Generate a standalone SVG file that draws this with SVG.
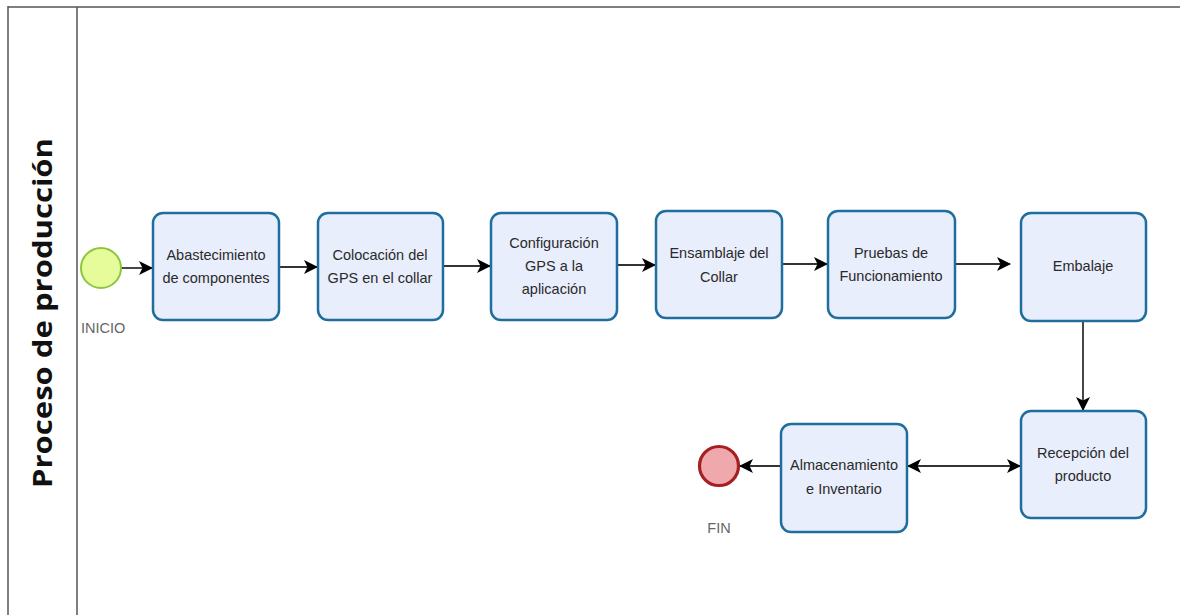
<svg xmlns="http://www.w3.org/2000/svg" width="1180" height="615" viewBox="0 0 1180 615">
<style>
.task{fill:#E9EEFC;stroke:#1F6E9E;stroke-width:2.5}
.lbl{font-family:"Liberation Sans",Arial,sans-serif;font-size:14.5px;fill:#2a2a2a;text-anchor:middle}
.ev{font-family:"Liberation Sans",Arial,sans-serif;font-size:14.5px;fill:#666}
.conn{stroke:#333;stroke-width:1.8;fill:none}
.pool{stroke:#555;stroke-width:1.5;fill:none}
</style>
<defs>
<marker id="ah" viewBox="0 0 14 14" refX="13" refY="7" markerWidth="14" markerHeight="14" markerUnits="userSpaceOnUse" orient="auto-start-reverse">
<path d="M0,0 L14,7 L0,14 L3.5,7 Z" fill="#000"/>
</marker>
</defs>
<rect width="1180" height="615" fill="#fff"/>
<g id="pool">
<line class="pool" x1="8" y1="7" x2="1180" y2="7" stroke-width="2.5"/>
<line class="pool" x1="8" y1="6" x2="8" y2="615"/>
<line class="pool" x1="77" y1="7" x2="77" y2="615"/>
<text x="52" y="313" transform="rotate(-90 52 313)" font-family="'Open Sans','Liberation Sans',sans-serif" font-size="27" font-weight="bold" fill="#111" text-anchor="middle" textLength="350" lengthAdjust="spacingAndGlyphs">Proceso de producción</text>
</g>
<g id="connectors">
<line class="conn" x1="121" y1="268" x2="152" y2="268" marker-end="url(#ah)"/>
<line class="conn" x1="279" y1="267" x2="317" y2="267" marker-end="url(#ah)"/>
<line class="conn" x1="443" y1="266" x2="490" y2="266" marker-end="url(#ah)"/>
<line class="conn" x1="617" y1="265" x2="655" y2="265" marker-end="url(#ah)"/>
<line class="conn" x1="782" y1="264" x2="827" y2="264" marker-end="url(#ah)"/>
<line class="conn" x1="955" y1="264" x2="1010" y2="264" marker-end="url(#ah)"/>
<line class="conn" x1="1083" y1="321" x2="1083" y2="410" stroke="#666" marker-end="url(#ah)"/>
<line class="conn" x1="908" y1="466" x2="1020" y2="466" marker-start="url(#ah)" marker-end="url(#ah)"/>
<line class="conn" x1="781" y1="466" x2="740" y2="466" marker-end="url(#ah)"/>
</g>
<g id="inicio">
<circle cx="101" cy="268" r="20" fill="#E6FC9A" stroke="#8CC63E" stroke-width="2"/>
<text class="ev" x="81" y="333">INICIO</text>
</g>
<g id="abastecimiento">
<rect class="task" x="153" y="213" width="126" height="107" rx="10"/>
<text class="lbl" x="216" y="260">Abastecimiento</text>
<text class="lbl" x="216" y="283">de componentes</text>
</g>
<g id="colocacion">
<rect class="task" x="318" y="213" width="125" height="107" rx="10"/>
<text class="lbl" x="380" y="260">Colocación del</text>
<text class="lbl" x="380" y="283">GPS en el collar</text>
</g>
<g id="configuracion">
<rect class="task" x="491" y="213" width="126" height="107" rx="10"/>
<text class="lbl" x="554" y="248">Configuración</text>
<text class="lbl" x="554" y="271">GPS a la</text>
<text class="lbl" x="554" y="294">aplicación</text>
</g>
<g id="ensamblaje">
<rect class="task" x="656" y="211" width="126" height="107" rx="10"/>
<text class="lbl" x="719" y="258">Ensamblaje del</text>
<text class="lbl" x="719" y="282">Collar</text>
</g>
<g id="pruebas">
<rect class="task" x="828" y="211" width="127" height="107" rx="10"/>
<text class="lbl" x="891" y="258">Pruebas de</text>
<text class="lbl" x="891" y="281">Funcionamiento</text>
</g>
<g id="embalaje">
<rect class="task" x="1021" y="213" width="125" height="108" rx="10"/>
<text class="lbl" x="1083" y="271">Embalaje</text>
</g>
<g id="recepcion">
<rect class="task" x="1021" y="411" width="125" height="107" rx="10"/>
<text class="lbl" x="1083" y="458">Recepción del</text>
<text class="lbl" x="1083" y="481">producto</text>
</g>
<g id="almacenamiento">
<rect class="task" x="781" y="424" width="126" height="108" rx="10"/>
<text class="lbl" x="844" y="470">Almacenamiento</text>
<text class="lbl" x="844" y="494">e Inventario</text>
</g>
<g id="fin">
<circle cx="719" cy="466" r="19.5" fill="#EFA9AC" stroke="#A51F23" stroke-width="3.2"/>
<text class="ev" x="719" y="533" text-anchor="middle">FIN</text>
</g>
</svg>
